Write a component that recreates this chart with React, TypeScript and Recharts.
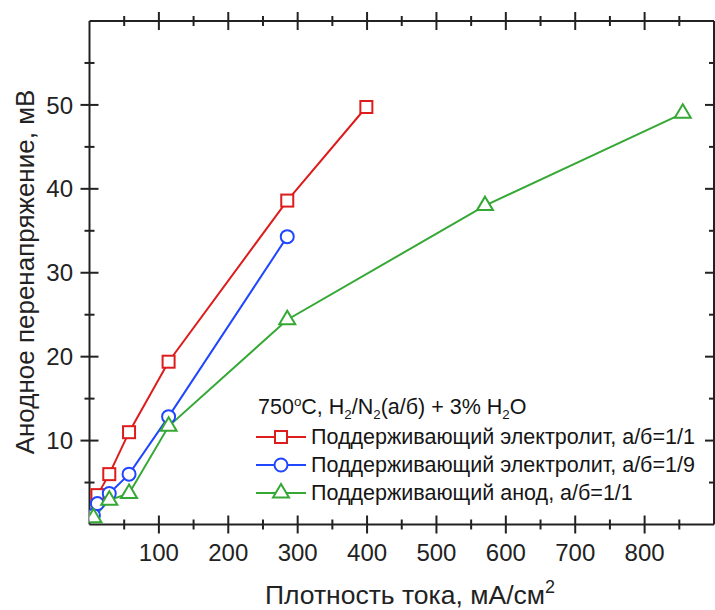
import React from 'react';
import { LineChart, Line, XAxis, YAxis, Legend, ReferenceLine } from 'recharts';

// ---- data ----
const redX = [11.4, 28.5, 57, 114, 285, 399];
const redY = [3.5, 6.0, 11.0, 19.4, 38.6, 49.75];
const blueX = [5.7, 11.4, 28.5, 57, 114, 285];
const blueY = [1.1, 2.5, 3.7, 6.0, 12.85, 34.3];
const greenX = [5.7, 28.5, 57, 114, 285, 570, 855];
const greenY = [0.8, 2.9, 3.7, 11.7, 24.4, 38.0, 49.0];

const xTicks = [50, 100, 150, 200, 250, 300, 350, 400, 450, 500, 550, 600, 650, 700, 750, 800, 850];
const yTicks = [5, 10, 15, 20, 25, 30, 35, 40, 45, 50, 55];
const xLabels = [100, 200, 300, 400, 500, 600, 700, 800];
const yLabels = [10, 20, 30, 40, 50];

const seriesNames = [
  'Поддерживающий электролит, а/б=1/1',
  'Поддерживающий электролит, а/б=1/9',
  'Поддерживающий анод, а/б=1/1',
];
const xTitle = 'Плотность тока, мА/см';
const yTitle = 'Анодное перенапряжение, мВ';

const redData = redX.map((x, i) => ({ x, y: redY[i] }));
const blueData = blueX.map((x, i) => ({ x, y: blueY[i] }));
const greenData = greenX.map((x, i) => ({ x, y: greenY[i] }));

const FONT = '"Liberation Sans", Arial, sans-serif';
const AX = '#222';
const RED = '#dd1c1c';
const BLUE = '#2146ff';
const GREEN = '#35a835';
const X_DOMAIN: [number, number] = [0, 900];
const Y_DOMAIN: [number, number] = [0, 60];
const MAJ = 9;
const MIN = 5;
const TW = 2;
const PX_X = (X_DOMAIN[1] - X_DOMAIN[0]) / 624.5;
const PX_Y = (Y_DOMAIN[1] - Y_DOMAIN[0]) / 503.5;

// ---- markers ----
function Marker({ shape, cx, cy, color }: any) {
  if (shape === 'square') {
    return <rect x={cx - 6} y={cy - 6} width={12} height={12} fill="#fff" stroke={color} strokeWidth={2} />;
  }
  if (shape === 'circle') {
    return <circle cx={cx} cy={cy} r={6.5} fill="#fff" stroke={color} strokeWidth={2} />;
  }
  const h = 13.5;
  const w = 16;
  const pts = `${cx},${cy - (2 * h) / 3} ${cx - w / 2},${cy + h / 3} ${cx + w / 2},${cy + h / 3}`;
  return <polygon points={pts} fill="#fff" stroke={color} strokeWidth={2} strokeLinejoin="miter" />;
}

const makeDot = (shape: string, color: string) => (props: any) => (
  <Marker key={`${shape}-${props.index}`} shape={shape} cx={props.cx} cy={props.cy} color={color} />
);

// ---- ticks: crossing marks (filled rects) + labels ----
const renderBottomTick = (p: any) => {
  const x = Number(p.x);
  const y = Number(p.y);
  const v = p.payload.value;
  const major = xLabels.includes(v);
  const len = major ? MAJ : MIN;
  return (
    <g key={`b-${v}`}>
      <rect x={x - TW / 2} y={y - len} width={TW} height={2 * len} fill={AX} />
      {major && (
        <text x={x} y={y + 36.5} textAnchor="middle" fontSize={24} fontFamily={FONT} fill="#222">
          {v}
        </text>
      )}
    </g>
  );
};
const renderLeftTick = (p: any) => {
  const x = Number(p.x);
  const y = Number(p.y);
  const v = p.payload.value;
  const major = yLabels.includes(v);
  const len = major ? MAJ : MIN;
  return (
    <g key={`l-${v}`}>
      <rect x={x - len} y={y - TW / 2} width={2 * len} height={TW} fill={AX} />
      {major && (
        <text x={x - 16.5} y={y} dy="0.36em" textAnchor="end" fontSize={24} fontFamily={FONT} fill="#222">
          {v}
        </text>
      )}
    </g>
  );
};

// top and right tick marks drawn through the axes' scales
function edgeTicks() {
  const out: any[] = [];
  const add = (key: string, a: any, b: any) =>
    out.push(<ReferenceLine key={key} segment={[a, b]} ifOverflow="visible" stroke={AX} strokeWidth={2} />);
  xTicks.forEach((v) => {
    const d = (xLabels.includes(v) ? MAJ : MIN) * PX_Y;
    add(`xt${v}`, { x: v, y: Y_DOMAIN[1] - d }, { x: v, y: Y_DOMAIN[1] + d });
  });
  yTicks.forEach((v) => {
    const d = (yLabels.includes(v) ? MAJ : MIN) * PX_X;
    add(`yr${v}`, { x: X_DOMAIN[1] - d, y: v }, { x: X_DOMAIN[1] + d, y: v });
  });
  return out;
}

const frame = { stroke: AX, strokeWidth: 2 };

// ---- legend ----
const legendItems = [
  { name: seriesNames[0], color: RED, shape: 'square' },
  { name: seriesNames[1], color: BLUE, shape: 'circle' },
  { name: seriesNames[2], color: GREEN, shape: 'triangle' },
];

function LegendContent() {
  const supStyle: any = { fontSize: '0.62em', verticalAlign: 'super', lineHeight: 0 };
  const subStyle: any = { fontSize: '0.62em', verticalAlign: 'sub', lineHeight: 0 };
  return (
    <div style={{ fontFamily: FONT, fontSize: 21.5, color: '#151515', whiteSpace: 'nowrap' }}>
      <div style={{ height: 31, lineHeight: '31px', paddingLeft: 2 }}>
        750<span style={supStyle}>o</span>C, H<span style={subStyle}>2</span>/N<span style={subStyle}>2</span>(а/б) + 3% H
        <span style={subStyle}>2</span>O
      </div>
      {legendItems.map((it) => (
        <div key={it.name} style={{ display: 'flex', alignItems: 'center', height: 28 }}>
          <svg width={52} height={22} style={{ display: 'block' }}>
            <line x1={0} x2={50} y1={11} y2={11} stroke={it.color} strokeWidth={2} />
            <Marker shape={it.shape} cx={25} cy={11} color={it.color} />
          </svg>
          <span style={{ marginLeft: 3, lineHeight: '28px' }}>{it.name}</span>
        </div>
      ))}
    </div>
  );
}

// ---- axis titles ----
const XTitle = () => (
  <text x={410} y={604} textAnchor="middle" fontSize={26.5} fontFamily={FONT} fill="#222">
    {xTitle}
    <tspan dy={-11} fontSize={18}>2</tspan>
  </text>
);
const YTitle = () => (
  <text x={0} y={0} transform="translate(34, 272) rotate(-90)" textAnchor="middle" fontSize={26} fontFamily={FONT} fill="#222">
    {yTitle}
  </text>
);

export default function App() {
  return (
    <div style={{ position: 'absolute', left: 0, top: 0, width: 715, height: 610, background: '#fff' }}>
      <LineChart width={715} height={610} margin={{ top: 20, left: 88.5, right: 0, bottom: 84.5 }}>
        <XAxis
          type="number"
          dataKey="x"
          domain={X_DOMAIN}
          allowDataOverflow
          ticks={xTicks}
          interval={0}
          height={1}
          tickSize={0}
          tickMargin={0}
          tickLine={false}
          axisLine={frame}
          tick={renderBottomTick}
          label={{ content: XTitle }}
        />
        <XAxis
          xAxisId="top"
          orientation="top"
          type="number"
          domain={X_DOMAIN}
          allowDataOverflow
          ticks={xTicks}
          interval={0}
          height={1}
          tickSize={0}
          tickLine={false}
          axisLine={frame}
          tick={false}
        />
        <YAxis
          type="number"
          dataKey="y"
          domain={Y_DOMAIN}
          allowDataOverflow
          ticks={yTicks}
          interval={0}
          width={1}
          tickSize={0}
          tickMargin={0}
          tickLine={false}
          axisLine={frame}
          tick={renderLeftTick}
          label={{ content: YTitle }}
        />
        <YAxis
          yAxisId="right"
          orientation="right"
          type="number"
          domain={Y_DOMAIN}
          allowDataOverflow
          ticks={yTicks}
          interval={0}
          width={1}
          tickSize={0}
          tickLine={false}
          axisLine={frame}
          tick={false}
        />
        {edgeTicks()}
        <Legend
          layout="vertical"
          align="center"
          verticalAlign="middle"
          wrapperStyle={{ left: 256, top: 391.5, width: 459, height: 'auto' }}
          content={<LegendContent />}
        />
        <Line data={redData} dataKey="y" name={seriesNames[0]} type="linear" stroke={RED} strokeWidth={2} dot={makeDot('square', RED)} activeDot={false} isAnimationActive={false} />
        <Line data={blueData} dataKey="y" name={seriesNames[1]} type="linear" stroke={BLUE} strokeWidth={2} dot={makeDot('circle', BLUE)} activeDot={false} isAnimationActive={false} />
        <Line data={greenData} dataKey="y" name={seriesNames[2]} type="linear" stroke={GREEN} strokeWidth={2} dot={makeDot('triangle', GREEN)} activeDot={false} isAnimationActive={false} />
      </LineChart>
    </div>
  );
}
